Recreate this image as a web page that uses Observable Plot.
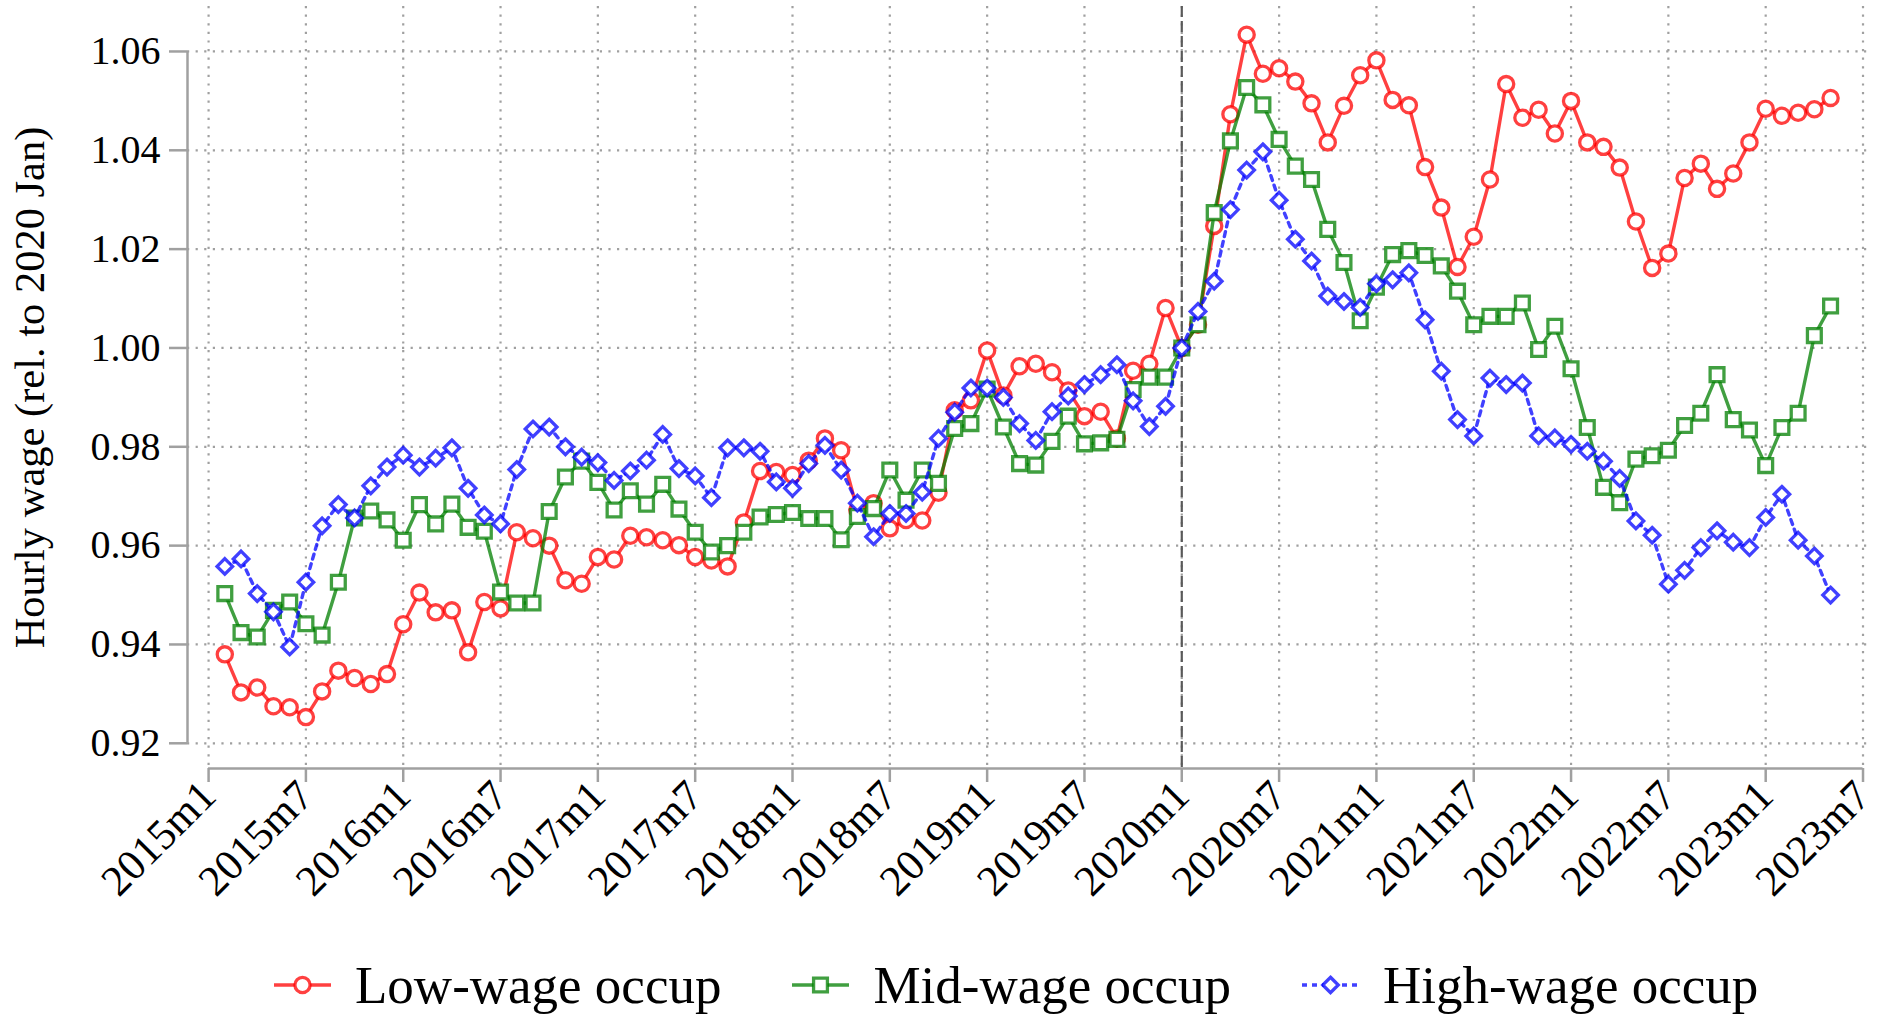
<!DOCTYPE html>
<html>
<head>
<meta charset="utf-8">
<script src="https://cdn.jsdelivr.net/npm/d3@7"></script>
<script src="https://cdn.jsdelivr.net/npm/@observablehq/plot@0.6"></script>
<style>
  html, body { margin: 0; padding: 0; background: #fff; }
  body { width: 1886px; height: 1018px; overflow: hidden; font-family: "Liberation Serif", serif; }
  #chart svg { display: block; }
  #legend { display: flex; align-items: center; padding-left: 274px; height: 88px; padding-top: 22px; box-sizing: border-box; }
  .item { display: flex; align-items: center; margin-right: 71px; }
  .item span { font-family: "Liberation Serif", serif; font-size: 53px; color: #000; margin-left: 24px; white-space: nowrap; }
</style>
</head>
<body>
<div id="chart"></div>
<div id="legend"></div>
<script>
// ---- data (monthly, 2015m2 .. 2023m5) ----
const firstMonth = "2015m2";
const seriesNames = ["Low-wage occup", "Mid-wage occup", "High-wage occup"];

const lowWage = [
  0.9380, 0.9303, 0.9313, 0.9275, 0.9273, 0.9253, 0.9305, 0.9347, 0.9332, 0.9320, 0.9340,
  0.9441, 0.9505, 0.9465, 0.9469, 0.9384, 0.9486, 0.9473, 0.9627, 0.9615, 0.9600, 0.9530, 0.9523,
  0.9577, 0.9572, 0.9620, 0.9617, 0.9611, 0.9601, 0.9577, 0.9570, 0.9558, 0.9647, 0.9751, 0.9749,
  0.9743, 0.9772, 0.9817, 0.9793, 0.9672, 0.9686, 0.9635, 0.9652, 0.9651, 0.9707, 0.9874, 0.9894,
  0.9995, 0.9904, 0.9963, 0.9968, 0.9951, 0.9914, 0.9862, 0.9871, 0.9817, 0.9954, 0.9968, 1.0081,
  1.0000, 1.0047, 1.0247, 1.0473, 1.0634, 1.0555, 1.0566, 1.0539, 1.0495, 1.0416, 1.0490, 1.0552,
  1.0582, 1.0502, 1.0491, 1.0366, 1.0284, 1.0164, 1.0225, 1.0341, 1.0534, 1.0466, 1.0482, 1.0434,
  1.0500, 1.0416, 1.0407, 1.0365, 1.0256, 1.0162, 1.0191, 1.0344, 1.0373, 1.0322, 1.0353, 1.0416,
  1.0484, 1.0470, 1.0476, 1.0483, 1.0506
];

const midWage = [
  0.9503, 0.9424, 0.9415, 0.9469, 0.9486, 0.9442, 0.9419, 0.9526, 0.9656, 0.9670, 0.9652,
  0.9611, 0.9683, 0.9644, 0.9684, 0.9637, 0.9629, 0.9506, 0.9484, 0.9484, 0.9669, 0.9739, 0.9771,
  0.9728, 0.9672, 0.9711, 0.9684, 0.9724, 0.9674, 0.9627, 0.9587, 0.9600, 0.9627, 0.9658, 0.9663,
  0.9667, 0.9655, 0.9655, 0.9612, 0.9659, 0.9675, 0.9753, 0.9692, 0.9753, 0.9726, 0.9837, 0.9847,
  0.9917, 0.9840, 0.9766, 0.9763, 0.9811, 0.9862, 0.9806, 0.9808, 0.9815, 0.9916, 0.9941, 0.9941,
  1.0000, 1.0047, 1.0274, 1.0419, 1.0527, 1.0492, 1.0422, 1.0368, 1.0341, 1.0240, 1.0173, 1.0055,
  1.0123, 1.0189, 1.0197, 1.0187, 1.0166, 1.0115, 1.0047, 1.0064, 1.0064, 1.0091, 0.9997, 1.0044,
  0.9958, 0.9839, 0.9718, 0.9687, 0.9775, 0.9782, 0.9793, 0.9843, 0.9868, 0.9946, 0.9855, 0.9834,
  0.9762, 0.9839, 0.9868, 1.0025, 1.0085
];

const highWage = [
  0.9558, 0.9573, 0.9503, 0.9466, 0.9395, 0.9526, 0.9640, 0.9683, 0.9656, 0.9721, 0.9759,
  0.9783, 0.9759, 0.9777, 0.9798, 0.9716, 0.9662, 0.9644, 0.9754, 0.9836, 0.9840, 0.9800, 0.9779,
  0.9768, 0.9732, 0.9751, 0.9773, 0.9825, 0.9756, 0.9741, 0.9697, 0.9798, 0.9798, 0.9791, 0.9729,
  0.9716, 0.9766, 0.9803, 0.9753, 0.9686, 0.9618, 0.9665, 0.9665, 0.9708, 0.9817, 0.9870, 0.9919,
  0.9919, 0.9900, 0.9847, 0.9813, 0.9871, 0.9903, 0.9926, 0.9946, 0.9966, 0.9893, 0.9841, 0.9882,
  1.0000, 1.0074, 1.0135, 1.0280, 1.0360, 1.0397, 1.0299, 1.0220, 1.0176, 1.0105, 1.0094, 1.0082,
  1.0130, 1.0138, 1.0152, 1.0057, 0.9953, 0.9855, 0.9822, 0.9939, 0.9926, 0.9929, 0.9822, 0.9818,
  0.9805, 0.9791, 0.9771, 0.9736, 0.9650, 0.9621, 0.9522, 0.9550, 0.9596, 0.9630, 0.9607, 0.9596,
  0.9657, 0.9704, 0.9611, 0.9579, 0.9500
];

const yTicks = [0.92, 0.94, 0.96, 0.98, 1.00, 1.02, 1.04, 1.06];
const xTickLabels = ["2015m1","2015m7","2016m1","2016m7","2017m1","2017m7","2018m1","2018m7",
  "2019m1","2019m7","2020m1","2020m7","2021m1","2021m7","2022m1","2022m7","2023m1","2023m7"];
const eventMonth = "2020m1";
const yTitle = "Hourly wage (rel. to 2020 Jan)";

// ---- helpers ----
const baseLabel = xTickLabels[0];
function monthIndex(lbl) {
  const m = /^(\d{4})m(\d+)$/.exec(lbl);
  const b = /^(\d{4})m(\d+)$/.exec(baseLabel);
  return (+m[1] - +b[1]) * 12 + (+m[2] - +b[2]);
}
const start = monthIndex(firstMonth);
const xTicks = xTickLabels.map(monthIndex);
const labelOf = new Map(xTickLabels.map(l => [monthIndex(l), l]));

const styles = [
  { name: seriesNames[0], values: lowWage,  color: "#ff0000", symbol: "circle",   r: 7.6, dash: null },
  { name: seriesNames[1], values: midWage,  color: "#007f00", symbol: "square",   r: 7.8, dash: null },
  { name: seriesNames[2], values: highWage, color: "#0000ff", symbol: "diamond2", r: 7.0, dash: "5,5" }
];
const rows = styles.map(s => s.values.map((v, i) => ({ t: start + i, v, series: s.name })));

const xDom = [xTicks[0] - 1.3, xTicks[xTicks.length - 1] + 0.4];
const yDom = [0.9149, 1.0691];
const gray = "#a0a0a0";

const seriesMarks = styles.flatMap((s, k) => [
  Plot.line(rows[k], { x: "t", y: "v", stroke: s.color, strokeOpacity: 0.75, strokeWidth: 3.4,
    strokeDasharray: s.dash || undefined }),
  Plot.dot(rows[k], { x: "t", y: "v", symbol: s.symbol, r: s.r, stroke: s.color, strokeOpacity: 0.75,
    strokeWidth: 3.3, fill: "white" })
]);

const chart = Plot.plot({
  width: 1886, height: 930,
  marginLeft: 187, marginRight: 17, marginTop: 6, marginBottom: 162,
  style: { fontFamily: "Liberation Serif", fontSize: "40px", background: "#fff", color: "#000" },
  x: { type: "linear", domain: xDom },
  y: { domain: yDom },
  marks: [
    Plot.gridY(yTicks, { stroke: gray, strokeOpacity: 1, strokeWidth: 2.2, strokeDasharray: "2.2,6.4" }),
    Plot.gridX(xTicks, { stroke: gray, strokeOpacity: 1, strokeWidth: 2.2, strokeDasharray: "2.2,6.4" }),
    Plot.ruleX([monthIndex(eventMonth)], { stroke: "#5a5a5a", strokeWidth: 2.2, strokeDasharray: "11,4" }),
    Plot.axisY(yTicks, { tickSize: 18, tickPadding: 9, tickFormat: d => d.toFixed(2), stroke: gray,
      strokeWidth: 2.5, fontSize: 40, label: null }),
    Plot.ruleX([xDom[0]], { y1: yTicks[0], y2: yTicks[yTicks.length - 1], stroke: gray, strokeWidth: 2.5 }),
    Plot.axisX(xTicks, { tickSize: 14, tickPadding: 6, tickRotate: -45, tickFormat: d => labelOf.get(d),
      stroke: gray, strokeWidth: 2.5, fontSize: 43, label: null }),
    Plot.ruleY([yDom[0]], { x1: xTicks[0], x2: xTicks[xTicks.length - 1], stroke: gray, strokeWidth: 2.5 }),
    Plot.text([yTitle], { frameAnchor: "left", rotate: -90, dx: -157, fontSize: 42.5, textAnchor: "middle",
      lineAnchor: "middle", fill: "#000" }),
    ...seriesMarks
  ]
});
document.getElementById("chart").appendChild(chart);

// ---- legend ----
const legend = document.getElementById("legend");
styles.forEach(s => {
  const item = document.createElement("div");
  item.className = "item";
  const sw = d3.create("svg").attr("width", 57).attr("height", 30);
  sw.append("line").attr("x1", 0).attr("x2", 57).attr("y1", 15).attr("y2", 15)
    .attr("stroke", s.color).attr("stroke-opacity", 0.75).attr("stroke-width", 3.4)
    .attr("stroke-dasharray", s.dash);
  const symMap = { circle: d3.symbolCircle, square: d3.symbolSquare, diamond2: d3.symbolDiamond2 };
  sw.append("path").attr("transform", "translate(28.5,15)")
    .attr("d", d3.symbol(symMap[s.symbol], Math.PI * s.r * s.r)())
    .attr("fill", "white").attr("stroke", s.color).attr("stroke-opacity", 0.75).attr("stroke-width", 3.3);
  item.appendChild(sw.node());
  const t = document.createElement("span");
  t.textContent = s.name;
  item.appendChild(t);
  legend.appendChild(item);
});
</script>
</body>
</html>
